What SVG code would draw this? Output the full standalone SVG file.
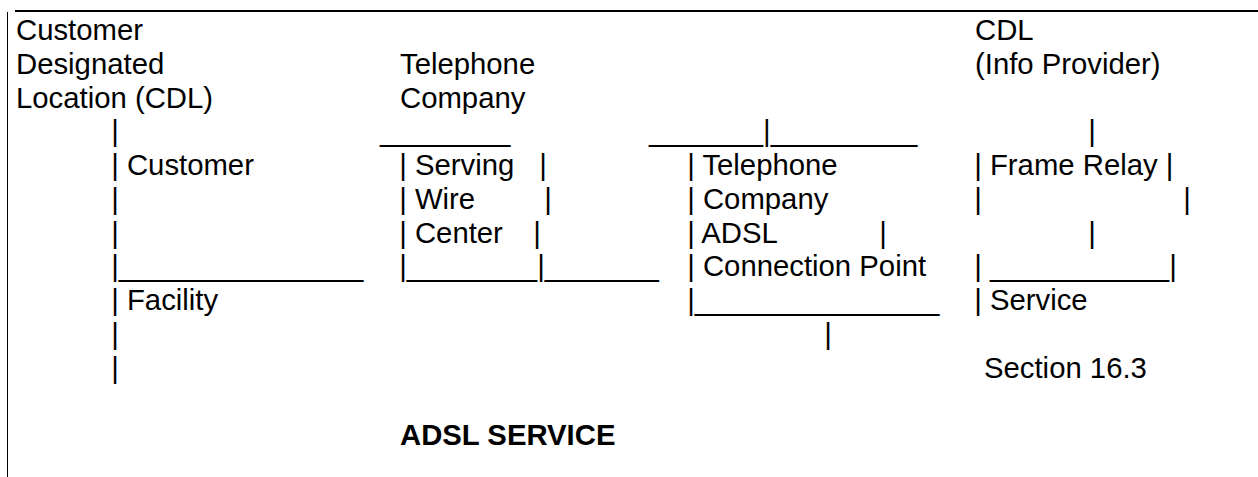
<svg xmlns="http://www.w3.org/2000/svg" width="1258" height="477" viewBox="0 0 1258 477">
  <style>
    text { font-family: "Liberation Sans", Arial, sans-serif; font-size: 29.3px; fill: #000; white-space: pre; }
    .title { font-weight: bold; }
    .rule { stroke: #000; fill: none; }
  </style>

  <!-- page frame: heavy top rule and thin left margin rule -->
  <g id="frame">
    <line class="rule" x1="15" y1="11" x2="1258" y2="11" stroke-width="2"/>
    <line class="rule" x1="7.5" y1="12" x2="7.5" y2="477" stroke-width="1"/>
  </g>

  <!-- column headings -->
  <g id="cdl-customer-heading">
    <text x="16" y="40">Customer</text>
    <text x="16" y="73.75">Designated</text>
    <text x="16" y="107.5">Location (CDL)</text>
  </g>
  <g id="telco-heading">
    <text x="400" y="73.75">Telephone</text>
    <text x="400" y="107.5">Company</text>
  </g>
  <g id="cdl-provider-heading">
    <text x="975" y="40">CDL</text>
    <text x="975" y="73.75">(Info Provider)</text>
  </g>

  <!-- customer facility -->
  <g id="customer-facility">
    <text x="111.2" y="175">| Customer</text>
    <text x="111.2" y="310">| Facility</text>
  </g>

  <!-- serving wire center -->
  <g id="serving-wire-center">
    <text x="399.2" y="175">| Serving</text>
    <text x="539.2" y="175">|</text>
    <text x="399.2" y="208.75">| Wire</text>
    <text x="544.2" y="208.75">|</text>
    <text x="399.2" y="242.5">| Center</text>
    <text x="533.2" y="242.5">|</text>
  </g>

  <!-- telephone company ADSL connection point -->
  <g id="adsl-connection-point">
    <text x="687.2" y="175">| Telephone</text>
    <text x="687.2" y="208.75">| Company</text>
    <text x="687.2" y="242.5">| ADSL</text>
    <text x="879.2" y="242.5">|</text>
    <text x="687.2" y="276.25">| Connection Point</text>
  </g>

  <!-- frame relay service -->
  <g id="frame-relay-service">
    <text x="974.2" y="175">| Frame Relay |</text>
    <text x="974.2" y="208.75">|</text>
    <text x="1183.2" y="208.75">|</text>
    <text x="1088.2" y="242.5">|</text>
    <text x="974.2" y="276.25">| ___________|</text>
    <text x="974.2" y="310">| Service</text>
    <text x="984" y="377.5">Section 16.3</text>
  </g>

  <!-- character-drawn links between the boxes -->
  <g id="connectors">
    <text x="111.2" y="141.25">|</text>
    <text x="380" y="141.25">________</text>
    <text x="649" y="141.25">_______|_________</text>
    <text x="1088.2" y="141.25">|</text>
    <text x="111.2" y="208.75">|</text>
    <text x="111.2" y="242.5">|</text>
    <text x="111.2" y="276.25">|_______________</text>
    <text x="399.2" y="276.25">|________|_______</text>
    <text x="687.2" y="310">|_______________</text>
    <text x="111.2" y="343.75">|</text>
    <text x="824.2" y="343.75">|</text>
    <text x="111.2" y="377.5">|</text>
  </g>

  <!-- caption -->
  <g id="caption">
    <text class="title" x="400" y="445.25">ADSL SERVICE</text>
  </g>
</svg>
